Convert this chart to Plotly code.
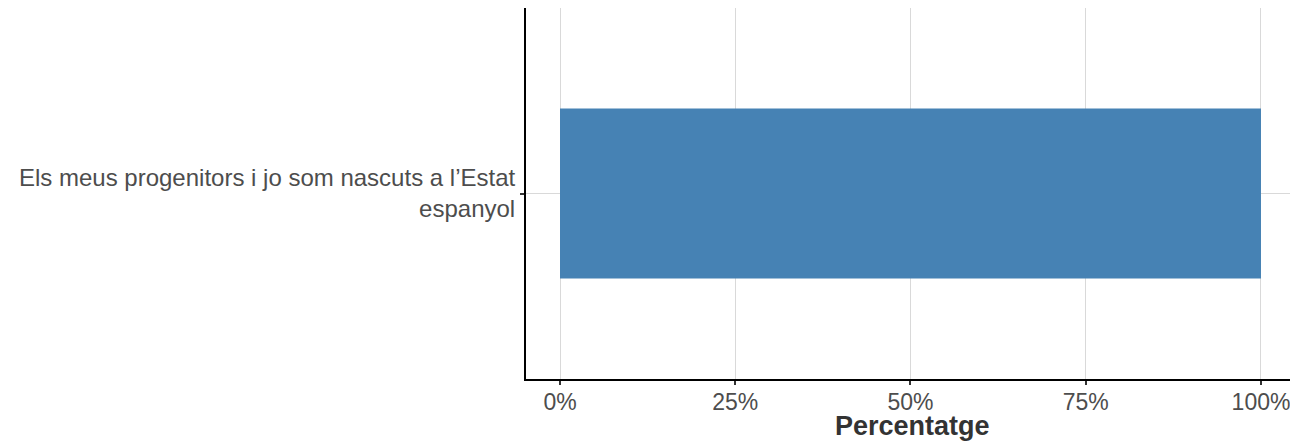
import plotly.graph_objects as go

categories = ["Els meus progenitors i jo som nascuts a l’Estat<br>espanyol"]
percentages = [100]
tick_vals = [0, 25, 50, 75, 100]
tick_text = ["0%", "25%", "50%", "75%", "100%"]

fig = go.Figure()

fig.add_trace(go.Bar(
    x=percentages,
    y=categories,
    orientation="h",
    width=0.55,
    marker=dict(color="#4682b4", line=dict(width=0)),
    hovertemplate="%{y}: %{x}%<extra></extra>",
))

# axis title drawn as an annotation so it sits where ggplot put it
fig.add_annotation(
    text="<b>Percentatge</b>",
    xref="paper", yref="paper",
    x=0.5, y=-0.126,
    xanchor="center", yanchor="middle",
    showarrow=False,
    font=dict(size=27, color="#333333"),
)

fig.update_layout(
    width=1290,
    height=440,
    margin=dict(l=518, r=0, t=0, b=69),
    plot_bgcolor="white",
    paper_bgcolor="white",
    showlegend=False,
    font=dict(family="Liberation Sans, Arial, sans-serif", size=23, color="#4d4d4d"),
    xaxis=dict(
        range=[-4.85, 105.28],
        tickvals=tick_vals,
        ticktext=tick_text,
        automargin=False,
        showgrid=True,
        gridcolor="#d9d9d9",
        gridwidth=1,
        zeroline=False,
        showline=True,
        linecolor="black",
        linewidth=2,
        ticks="outside",
        ticklen=4,
        tickwidth=2,
        tickcolor="#333333",
        ticklabelstandoff=-3,
        tickfont=dict(size=23, color="#4d4d4d"),
    ),
    yaxis=dict(
        range=[-0.6, 0.6],
        automargin=False,
        showgrid=True,
        gridcolor="#d9d9d9",
        gridwidth=1,
        zeroline=False,
        showline=True,
        linecolor="black",
        linewidth=2,
        ticks="outside",
        ticklen=4,
        tickwidth=2,
        tickcolor="#333333",
        tickfont=dict(size=24, color="#4d4d4d"),
    ),
)

fig.write_html("out.html")
